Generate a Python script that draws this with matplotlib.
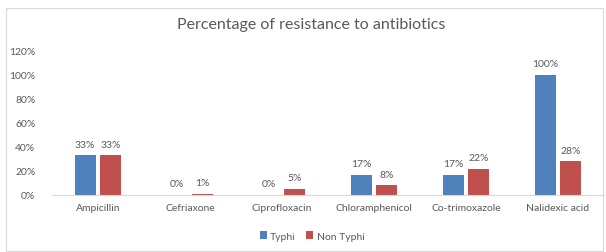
import matplotlib
matplotlib.use("Agg")
import matplotlib.pyplot as plt
import numpy as np
from matplotlib.patches import Rectangle

categories = ["Ampicillin", "Cefriaxone", "Ciprofloxacin", "Chloramphenicol", "Co-trimoxazole", "Nalidexic acid"]
typhi = [33, 0, 0, 17, 17, 100]
non_typhi = [33, 1, 5, 8, 22, 28]
yticks = [0, 20, 40, 60, 80, 100, 120]

plt.rcParams['font.family'] = ['Lato', 'DejaVu Sans']
txt = '#595959'
blue = '#4F81BD'
red = '#C0504D'

fig = plt.figure(figsize=(6.06, 2.53), dpi=100)
fig.patches.append(Rectangle((6/606, 0.005), 0.995 - 6/606, (248-5)/253, transform=fig.transFigure,
                             fill=False, edgecolor='#D9D9D9', linewidth=0.8))
ax = fig.add_axes([52/606, 57/253, 552/606, 144/253])

x = np.arange(len(categories))
w = 0.228
gap = 0.05
b1 = ax.bar(x - w/2 - gap/2, typhi, w, color=blue, label='Typhi')
b2 = ax.bar(x + w/2 + gap/2, non_typhi, w, color=red, label='Non Typhi')
for bars, vals in ((b1, typhi), (b2, non_typhi)):
    for r, v in zip(bars, vals):
        ax.text(r.get_x() + r.get_width()/2, v + 5.5, f"{v}%", ha='center', va='bottom',
                fontsize=7.5, color=txt)

ax.set_xlim(-0.5, len(categories) - 0.5)
ax.set_ylim(0, 120)
ax.set_yticks(yticks)
ax.set_yticklabels([f"{t}%" for t in yticks])
ax.set_xticks(x)
ax.set_xticklabels(categories)
ax.tick_params(axis='both', length=0, labelsize=7.5, labelcolor=txt)
ax.tick_params(axis='y', pad=12)
ax.tick_params(axis='x', pad=6)
for s in ['top', 'right', 'left']:
    ax.spines[s].set_visible(False)
ax.spines['bottom'].set_color('#D9D9D9')
ax.set_facecolor('none')

fig.text(311/606, 1 - 25/253, "Percentage of resistance to antibiotics", ha='center', va='center',
         fontsize=11.5, color=txt)
fig.legend(loc='center', bbox_to_anchor=(312/606, 1 - 237/253), ncol=2, frameon=False,
           fontsize=7.5, labelcolor=txt, handlelength=0.7, handleheight=0.7, handletextpad=0.3,
           columnspacing=1.0)

fig.savefig("out.png", dpi=100)
